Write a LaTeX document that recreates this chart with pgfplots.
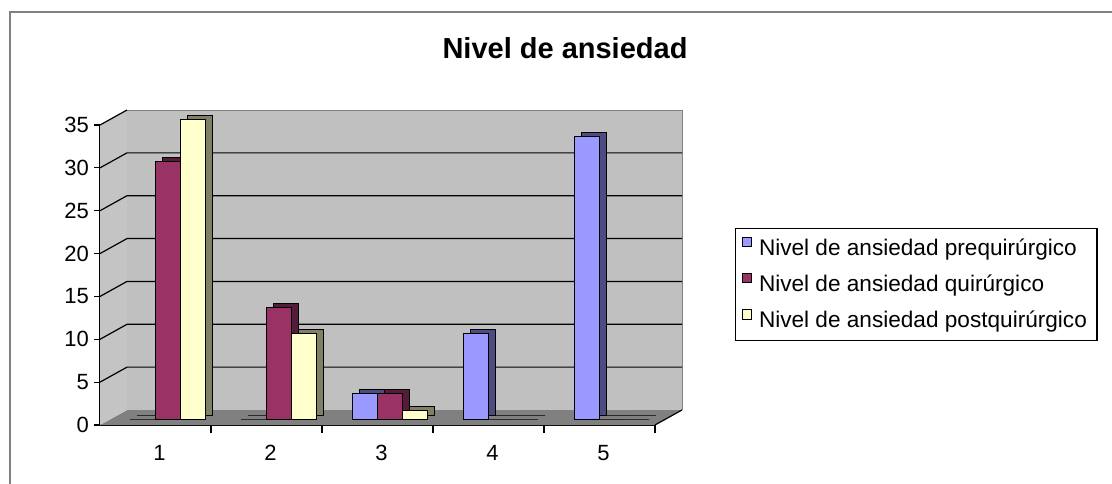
\documentclass[border=0pt]{standalone}
\usepackage{fontspec}
\setmainfont{Liberation Sans}
\usepackage{pgfplots}
\pgfplotsset{compat=1.18}
\definecolor{cpre}{HTML}{9999FF}
\definecolor{cqui}{HTML}{993366}
\definecolor{cpost}{HTML}{FFFFCC}
\definecolor{wallc}{HTML}{C0C0C0}
\definecolor{sidec}{HTML}{C4C4C4}
\definecolor{floorc}{HTML}{808080}
\begin{document}
\begin{tikzpicture}
\path[use as bounding box] (-50pt,-29pt) rectangle (506pt,212.5pt);
\draw[gray, line width=0.8pt] (-45pt,-40pt) -- (-45pt,206.5pt) -- (520pt,206.5pt);
\node[font=\bfseries\fontsize{14.5}{17}\selectfont] at (232.5pt,188.5pt) {Nivel de ansiedad};
\begin{axis}[
  at={(0pt,0pt)}, anchor=south west,
  scale only axis, width=277.5pt, height=150pt,
  xmin=0.5, xmax=5.5, ymin=0, ymax=35,
  clip=false,
  axis x line*=bottom, axis y line*=left,
  axis line style={black, line width=0.6pt},
  xtick={1,2,3,4,5},
  minor xtick={1.5,2.5,3.5,4.5,5.5},
  major x tick style={draw=none},
  minor x tick style={black},
  ytick={0,5,...,35},
  tick align=outside, tick style={black, line width=0.6pt},
  major tick length=3pt, minor tick length=4pt,
  tick label style={font=\fontsize{11}{13}\selectfont},
  yticklabel style={xshift=1pt},
  xticklabel style={xshift=2pt, yshift=-3.5pt},
  /pgf/number format/assume math mode=true,
  ybar=0pt, bar width=12.5pt,
  legend style={at={(1.144,0.657)}, anchor=north west, draw=black, line width=0.6pt,
    fill=white, font=\fontsize{11.3}{13}\selectfont, row sep=4.2pt, inner sep=3pt,
    cells={anchor=west}},
  legend image code/.code={\draw[#1,draw=black,line width=0.5pt] (0pt,-2.3pt) rectangle (4.6pt,2.3pt); \path[draw=none,fill=none] (0pt,0pt) -- (6.5pt,0pt);},
]
% floor, wall, side wall
\fill[floorc] (axis cs:0.5,0) -- (axis cs:5.5,0) -- ([shift={(13.5pt,7.5pt)}]axis cs:5.5,0) -- ([shift={(13.5pt,7.5pt)}]axis cs:0.5,0) -- cycle;
\fill[wallc] ([shift={(13.5pt,7.5pt)}]axis cs:0.5,0) rectangle ([shift={(13.5pt,7.5pt)}]axis cs:5.5,35);
\fill[sidec] (axis cs:0.5,0) -- ([shift={(13.5pt,7.5pt)}]axis cs:0.5,0) -- ([shift={(13.5pt,7.5pt)}]axis cs:0.5,35) -- (axis cs:0.5,35) -- cycle;
\draw[gray, line width=0.4pt] ([shift={(13.5pt,7.5pt)}]axis cs:0.5,35) -- ([shift={(13.5pt,7.5pt)}]axis cs:5.5,35) -- ([shift={(13.5pt,7.5pt)}]axis cs:5.5,0);
\pgfplotsinvokeforeach{5,10,15,20,25,30}{
  \draw[black, line width=0.6pt] (axis cs:0.5,#1) -- ([shift={(13.5pt,7.5pt)}]axis cs:0.5,#1) -- ([shift={(13.5pt,7.5pt)}]axis cs:5.5,#1);
}
\draw[black, line width=0.6pt] (axis cs:0.5,35) -- ([shift={(13.5pt,7.5pt)}]axis cs:0.5,35);
\draw[black, line width=0.6pt] (axis cs:5.5,0) -- ([shift={(13.5pt,7.5pt)}]axis cs:5.5,0);
% prequirurgico
\addplot[fill=cpre!50!black, draw=black, line width=0.5pt, bar shift=-12.5pt, xshift=9.5pt, yshift=5pt, forget plot]
  coordinates {(1,0) (2,0) (3,3) (4,10) (5,33)};
\addplot[fill=cpre, draw=black, line width=0.5pt, bar shift=-12.5pt, xshift=6pt, yshift=3pt]
  coordinates {(1,0) (2,0) (3,3) (4,10) (5,33)};
\addlegendentry{Nivel de ansiedad prequirúrgico}
% quirurgico
\addplot[fill=cqui!55!black, draw=black, line width=0.5pt, bar shift=0pt, xshift=9.5pt, yshift=5pt, forget plot]
  coordinates {(1,30) (2,13) (3,3) (4,0) (5,0)};
\addplot[fill=cqui, draw=black, line width=0.5pt, bar shift=0pt, xshift=6pt, yshift=3pt]
  coordinates {(1,30) (2,13) (3,3) (4,0) (5,0)};
\addlegendentry{Nivel de ansiedad quirúrgico}
% postquirurgico
\addplot[fill=cpost!50!black, draw=black, line width=0.5pt, bar shift=12.5pt, xshift=9.5pt, yshift=5pt, forget plot]
  coordinates {(1,35) (2,10) (3,1) (4,0) (5,0)};
\addplot[fill=cpost, draw=black, line width=0.5pt, bar shift=12.5pt, xshift=6pt, yshift=3pt]
  coordinates {(1,35) (2,10) (3,1) (4,0) (5,0)};
\addlegendentry{Nivel de ansiedad postquirúrgico}
\end{axis}
\end{tikzpicture}
\end{document}
